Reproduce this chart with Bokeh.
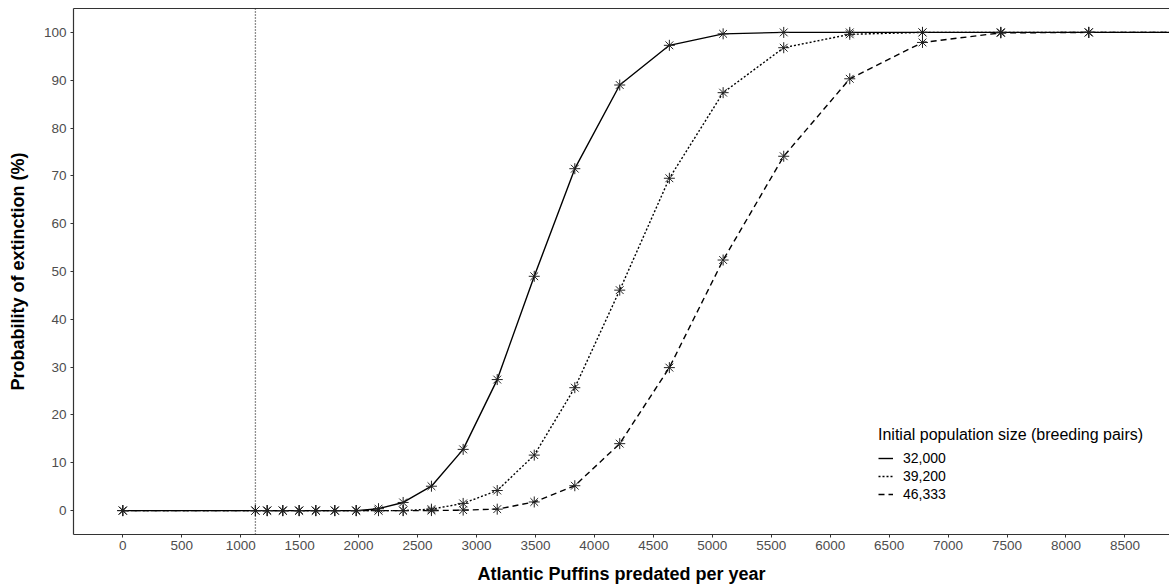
from bokeh.plotting import figure
from bokeh.models import Range1d, LinearAxis, FixedTicker, Span, Legend, LegendItem
from bokeh.embed import file_html
from bokeh.resources import INLINE

# ---- data ----
predated = [0, 1125, 1225, 1357, 1496, 1637, 1798, 1980, 2169, 2378, 2618, 2887,
            3176, 3490, 3834, 4215, 4636, 5092, 5606, 6166, 6783, 7447, 8193, 9012]
p_32000 = [0, 0, 0, 0, 0, 0, 0, 0, 0.4, 1.7, 5.1, 12.8, 27.4, 49.0, 71.5, 89.0,
           97.3, 99.7, 100, 100, 100, 100, 100, 100]
p_39200 = [0, 0, 0, 0, 0, 0, 0, 0, 0, 0, 0.3, 1.5, 4.2, 11.6, 25.7, 46.1,
           69.5, 87.4, 96.8, 99.6, 100, 100, 100, 100]
p_46333 = [0, 0, 0, 0, 0, 0, 0, 0, 0, 0, 0, 0.1, 0.3, 1.8, 5.2, 14.0,
           29.9, 52.4, 74.1, 90.3, 97.9, 99.9, 100, 100]
series_labels = ["32,000", "39,200", "46,333"]
current_predation = 1125
x_ticks = list(range(0, 9000, 500))
y_ticks = list(range(0, 101, 10))

FONT = "Liberation Sans"

p = figure(width=1169, height=587, output_backend="svg", toolbar_location=None,
           x_range=Range1d(-418, 8878), y_range=Range1d(-5, 105),
           min_border_left=73, min_border_right=0, min_border_top=8, min_border_bottom=53)
p.outline_line_color = None
p.grid.visible = False
p.background_fill_color = "white"
p.border_fill_color = "white"

for ax in (p.xaxis[0], p.yaxis[0]):
    ax.axis_line_color = "#333333"
    ax.axis_line_width = 1.2
    ax.major_tick_line_color = "#333333"
    ax.major_tick_out = 3
    ax.major_tick_in = 0
    ax.minor_tick_line_color = None
    ax.major_label_text_font = FONT
    ax.major_label_text_font_size = "13.5px"
    ax.major_label_text_color = "#4d4d4d"
    ax.axis_label_text_font = FONT
    ax.axis_label_text_font_size = "18px"
    ax.axis_label_text_font_style = "bold"
    ax.axis_label_text_color = "black"

p.xaxis.ticker = FixedTicker(ticks=x_ticks)
p.yaxis.ticker = FixedTicker(ticks=y_ticks)
p.xaxis.axis_label = "Atlantic Puffins predated per year"
p.yaxis.axis_label = "Probability of extinction (%)"
p.xaxis.major_label_standoff = 3
p.xaxis.axis_label_standoff = 11
p.yaxis.major_label_standoff = 4
p.yaxis.axis_label_standoff = 13

top = LinearAxis(ticker=FixedTicker(ticks=[]), axis_line_color="#333333", axis_line_width=1.2,
                 major_tick_line_color=None, minor_tick_line_color=None,
                 major_label_text_font_size="0px", major_label_standoff=0,
                 major_tick_out=0, major_tick_in=0)
p.add_layout(top, "above")

p.add_layout(Span(location=current_predation, dimension="height", line_color="#222222",
                  line_width=1.3, line_dash="1 2"))

dashes = ["solid", "2 2", "6 4"]
items = []
for vals, dash, lab in zip([p_32000, p_39200, p_46333], dashes, series_labels):
    r = p.line(predated, vals, line_color="black", line_width=1.4, line_dash=dash)
    p.scatter(predated, vals, marker="asterisk", size=11, line_color="#222222", line_width=1)
    items.append(LegendItem(label=lab, renderers=[r]))

legend = Legend(items=items, location=(805, 31), title="Initial population size (breeding pairs)",
                title_text_font=FONT, title_text_font_size="16px", title_text_color="black",
                title_text_font_style="normal", title_standoff=5,
                label_text_font=FONT, label_text_font_size="14px", label_text_color="black",
                glyph_width=15, glyph_height=18, label_height=18, label_standoff=10,
                spacing=0, padding=0, margin=0,
                border_line_color=None, background_fill_alpha=0)
p.add_layout(legend, "center")

open("out.html", "w").write(file_html(p, INLINE))
